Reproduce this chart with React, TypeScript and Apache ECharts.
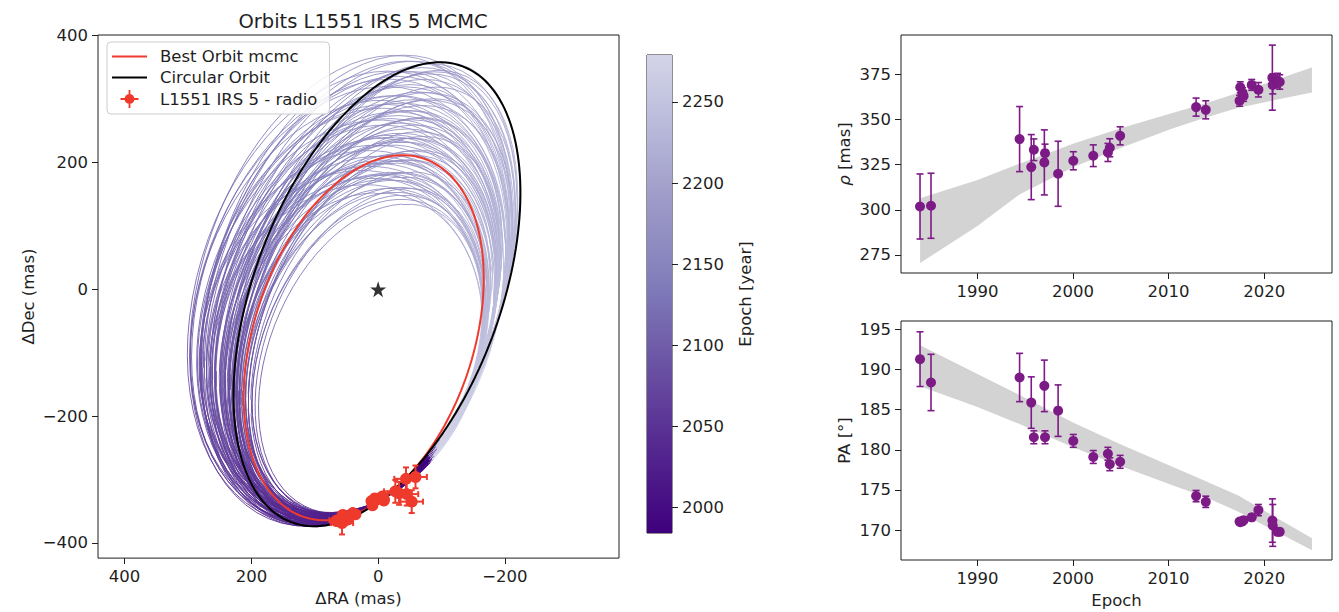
import React, { useEffect, useRef } from "react";
import * as echarts from "echarts";

// ---- Measurements: separation (rho) and position angle (PA) vs epoch ----
const EPOCHS = [1983.99, 1985.14, 1994.41, 1995.63, 1995.9, 1997.0, 1997.07, 1998.44, 2000.03, 2002.12, 2003.65, 2003.85, 2004.93, 2012.88, 2013.89, 2017.43, 2017.5, 2017.74, 2017.85, 2018.7, 2019.4, 2020.86, 2020.9, 2021.4, 2021.63];
const RHO = [301.8, 302.2, 339.1, 323.6, 333.2, 326.2, 331.3, 319.9, 327.1, 329.9, 331.7, 334.3, 340.9, 356.8, 355.3, 360.3, 367.8, 364.5, 363.0, 369.1, 366.4, 373.1, 369.1, 371.5, 370.7];
const RHO_ERR = [18, 18, 18, 18, 6, 18, 5, 18, 5, 6, 5, 5, 5, 5, 5, 3, 3, 3, 3, 3, 4, 18, 5, 4, 4];
const PA = [191.26, 188.36, 188.98, 185.86, 181.55, 187.94, 181.55, 184.86, 181.1, 179.1, 179.5, 178.2, 178.5, 174.24, 173.53, 171.08, 171.0, 171.1, 171.25, 171.6, 172.5, 171.2, 170.6, 169.8, 169.8];
const PA_ERR = [3.4, 3.5, 3.0, 3.2, 0.8, 3.2, 0.8, 3.2, 0.8, 0.8, 0.8, 0.8, 0.8, 0.7, 0.7, 0.3, 0.3, 0.3, 0.3, 0.4, 0.7, 2.7, 2.6, 0.4, 0.4];

// ---- Envelope of the MCMC orbit predictions ----
const BAND_EPOCHS = [1984, 1990, 1994.4, 2000, 2004.9, 2010.4, 2013.9, 2017.3, 2025];
const RHO_BAND_LOW = [270.5, 291.0, 308.5, 323.5, 334.0, 345.0, 351.0, 356.5, 364.9];
const RHO_BAND_HIGH = [306.4, 316.5, 325.5, 336.5, 345.0, 353.5, 359.0, 364.8, 378.7];
const PA_BAND_LOW = [187.9, 185.3, 183.2, 180.3, 178.0, 175.6, 174.1, 172.3, 167.5];
const PA_BAND_HIGH = [193.0, 189.4, 186.8, 183.4, 180.7, 177.9, 176.1, 174.3, 169.0];

// ---- Projected orbits (sky plane): semi-axes in mas, tilt in degrees ----
const STAR = [0, 0];
const ORBIT_ANCHOR = [-5, -332];
const ANCHOR_EPOCH = 2003;
const ANCHOR_PHASE = Math.PI + 0.67;
const EPOCH_MIN = 1984;
const EPOCH_MAX = 2279;
const BEST_ORBIT = { a: 298, b: 173, tilt: 18.5 };
const CIRCULAR_ORBIT = { a: 384, b: 194, tilt: 20.6 };
const SAMPLE_A = [
  262, 372, 307, 346, 281, 333, 300, 385, 275, 359, 313, 326, 255, 379, 294, 340, 288, 366, 320, 268,
  353, 304, 336, 382, 278, 349, 310, 265, 330, 291, 369, 317, 271, 356, 298, 376, 284, 323, 343, 259,
  315, 362, 276, 333, 302, 380, 289, 346, 263, 325, 367, 307, 273, 354, 294, 338, 320, 375, 281, 312,
  329, 272, 364, 295, 381, 258, 341, 308, 351, 285, 371, 319, 269, 337, 303, 360, 280, 324, 377, 293,
  347, 264, 332, 312, 384, 277, 355, 299, 334, 290,
];
const SAMPLE_B = [
  167, 198, 199, 225, 183, 183, 220, 190, 198, 211, 185, 215, 160, 222, 175, 235, 192, 202, 194, 174,
  235, 174, 201, 236, 174, 190, 208, 184, 208, 210, 225, 174, 208, 216, 186, 207, 169, 225, 194, 194,
  199, 187, 220, 211, 179, 216, 201, 206, 176, 187, 238, 216, 183, 202, 197, 223, 181, 193, 213, 190,
  192, 192, 226, 220, 200, 167, 214, 193, 187, 205, 212, 220, 164, 195, 203, 234, 181, 202, 190, 179,
  220, 210, 184, 207, 225, 195, 195, 172, 226, 191,
];
const SAMPLE_TILT = [
  21.5, 20.3, 19.9, 18.8, 20.3, 20.3, 18.9, 20.5, 19.6, 19.3, 20.6, 18.7, 22, 18.4, 20.5, 18.4, 19.7, 20.2, 19.95, 21,
  18.15, 21.3, 19.3, 17.5, 20.8, 21.2, 19.4, 20.5, 19, 18.6, 18.4, 21.1, 19.1, 19.1, 19.8, 19.7, 21, 18.2, 21, 20.1,
  19.8, 21.1, 18.4, 18.8, 21.1, 18.7, 19.2, 20.35, 21, 20.2, 17.7, 19, 20.4, 20.4, 19.3, 18, 20.7, 20.5, 18.65, 20.3,
  19.9, 20, 18.4, 18, 20, 21.6, 19.5, 20.2, 21.3, 19, 19.1, 18.6, 21.5, 19.6, 19.8, 18.1, 20.4, 19.4, 20.6, 20.3,
  19.1, 19.1, 20.3, 19.4, 18.1, 19.7, 20.8, 20.6, 17.9, 19.7,
];

// ---- Axis ticks ----
const RA_TICKS = [400, 200, 0, -200];
const DEC_TICKS = [-400, -200, 0, 200, 400];
const CBAR_TICKS = [2000, 2050, 2100, 2150, 2200, 2250];
const YEAR_TICKS = [1990, 2000, 2010, 2020];
const RHO_TICKS = [275, 300, 325, 350, 375];
const PA_TICKS = [170, 175, 180, 185, 190, 195];

// Colour map (truncated "Purples", dark = early epochs)
const CMAP_STOPS: [number, string][] = [
  [0, "#3f007d"], [0.174, "#54278f"], [0.347, "#6a51a3"], [0.521, "#807dba"],
  [0.694, "#9e9ac8"], [0.868, "#bcbddc"], [1, "#d4d4e8"],
];

const FONT = "'DejaVu Sans', sans-serif";
const FS = 16.5;
const INK = "#1f1f1f";
const RED = "#ee3a2c";
const PURPLE = "#7c1a86";
const BAND_GREY = "#d3d3d3";
const SEGMENTS = 72;

function hexRgb(h: string) {
  return [parseInt(h.slice(1, 3), 16), parseInt(h.slice(3, 5), 16), parseInt(h.slice(5, 7), 16)];
}
function cmap(f: number) {
  const x = Math.max(0, Math.min(1, f));
  for (let i = 1; i < CMAP_STOPS.length; i++) {
    const [o1, c1] = CMAP_STOPS[i];
    const [o0, c0] = CMAP_STOPS[i - 1];
    if (x <= o1) {
      const t = (x - o0) / (o1 - o0);
      const a = hexRgb(c0), b = hexRgb(c1);
      return `rgb(${Math.round(a[0] + (b[0] - a[0]) * t)},${Math.round(a[1] + (b[1] - a[1]) * t)},${Math.round(a[2] + (b[2] - a[2]) * t)})`;
    }
  }
  return CMAP_STOPS[CMAP_STOPS.length - 1][1];
}

type Orbit = { a: number; b: number; tilt: number };
function orbitPoint(o: Orbit, t: number): [number, number] {
  const phi = (o.tilt * Math.PI) / 180;
  const mx = -Math.sin(phi), my = Math.cos(phi);
  const nx = Math.cos(phi), ny = Math.sin(phi);
  const ca = Math.cos(ANCHOR_PHASE), sa = Math.sin(ANCHOR_PHASE);
  const cx = ORBIT_ANCHOR[0] - (o.a * ca * mx + o.b * sa * nx);
  const cy = ORBIT_ANCHOR[1] - (o.a * ca * my + o.b * sa * ny);
  return [cx + o.a * Math.cos(t) * mx + o.b * Math.sin(t) * nx, cy + o.a * Math.cos(t) * my + o.b * Math.sin(t) * ny];
}
function phaseAt(epoch: number) {
  return ANCHOR_PHASE - (2 * Math.PI * (epoch - ANCHOR_EPOCH)) / (EPOCH_MAX - EPOCH_MIN);
}
function closedOrbit(o: Orbit) {
  const pts: [number, number][] = [];
  for (let i = 0; i <= 180; i++) pts.push(orbitPoint(o, (i / 180) * 2 * Math.PI));
  return pts;
}
function sampleSegments() {
  const segs: any[] = [];
  const span = EPOCH_MAX - EPOCH_MIN;
  SAMPLE_A.forEach((a, k) => {
    const o = { a, b: SAMPLE_B[k], tilt: SAMPLE_TILT[k] };
    for (let i = 0; i < SEGMENTS; i++) {
      const e0 = EPOCH_MIN + (i / SEGMENTS) * span;
      const e1 = EPOCH_MIN + ((i + 1) / SEGMENTS) * span;
      segs.push({
        coords: [orbitPoint(o, phaseAt(e0)), orbitPoint(o, phaseAt(e1))],
        lineStyle: { color: cmap(((e0 + e1) / 2 - EPOCH_MIN) / span) },
      });
    }
  });
  return segs;
}

const fmt = (v: number) => (v < 0 ? "\u2212" + Math.abs(v) : String(v));

function valueAxis(extra: any, ticks: number[]) {
  return {
    type: "value",
    splitLine: { show: false },
    axisLine: { show: false, onZero: false },
    axisTick: { show: true, inside: false, length: 6, lineStyle: { color: INK, width: 1 }, customValues: ticks },
    axisLabel: { fontSize: FS, color: INK, fontFamily: FONT, margin: 10, formatter: fmt, customValues: ticks },
    nameTextStyle: { fontSize: FS, color: INK, fontFamily: FONT },
    nameLocation: "middle",
    ...extra,
  };
}

function vErrorItem(params: any, api: any) {
  const x = api.value(0), y = api.value(1), e = api.value(2);
  const top = api.coord([x, y + e]);
  const bot = api.coord([x, y - e]);
  const cap = 3.5;
  const st = { stroke: PURPLE, lineWidth: 1.6 };
  return {
    type: "group",
    children: [
      { type: "line", shape: { x1: top[0], y1: top[1], x2: bot[0], y2: bot[1] }, style: st },
      { type: "line", shape: { x1: top[0] - cap, y1: top[1], x2: top[0] + cap, y2: top[1] }, style: st },
      { type: "line", shape: { x1: bot[0] - cap, y1: bot[1], x2: bot[0] + cap, y2: bot[1] }, style: st },
    ],
  };
}

function bandItem(lo: number[], hi: number[]) {
  return (params: any, api: any) => {
    const pts: number[][] = [];
    BAND_EPOCHS.forEach((e, i) => pts.push(api.coord([e, hi[i]])));
    for (let i = BAND_EPOCHS.length - 1; i >= 0; i--) pts.push(api.coord([BAND_EPOCHS[i], lo[i]]));
    return { type: "polygon", shape: { points: pts }, style: { fill: BAND_GREY } };
  };
}

export default function App() {
  const ref = useRef<HTMLDivElement>(null);

  useEffect(() => {
    if (!ref.current) return;
    const chart = echarts.init(ref.current, undefined, { renderer: "svg" });

    // Sky-plane positions derived from (rho, PA)
    const d2r = Math.PI / 180;
    const skyPoints = EPOCHS.map((_, i) => {
      const p = PA[i] * d2r;
      return [RHO[i] * Math.sin(p), RHO[i] * Math.cos(p)];
    });
    const skyErrors = EPOCHS.map((_, i) => {
      const p = PA[i] * d2r;
      const sp = RHO[i] * PA_ERR[i] * d2r;
      const ex = Math.sqrt((Math.sin(p) * RHO_ERR[i]) ** 2 + (Math.cos(p) * sp) ** 2);
      const ey = Math.sqrt((Math.cos(p) * RHO_ERR[i]) ** 2 + (Math.sin(p) * sp) ** 2);
      return [skyPoints[i][0], skyPoints[i][1], ex, ey];
    });

    const gradient = new echarts.graphic.LinearGradient(
      0, 1, 0, 0,
      CMAP_STOPS.map(([offset, color]) => ({ offset, color }))
    );

    const option: any = {
      animation: false,
      backgroundColor: "#ffffff",
      textStyle: { fontFamily: FONT },
      title: {
        text: "Orbits L1551 IRS 5 MCMC",
        left: 358,
        top: 6,
        textAlign: "center",
        textStyle: { fontSize: 19.5, fontWeight: "normal", color: INK, fontFamily: FONT },
      },
      legend: {
        orient: "vertical",
        left: 107,
        top: 42,
        padding: [6, 12, 6, 5],
        itemGap: 4,
        itemWidth: 35,
        itemHeight: 18,
        backgroundColor: "rgba(255,255,255,0.85)",
        borderColor: "#cccccc",
        borderWidth: 1,
        borderRadius: 4,
        selectedMode: false,
        textStyle: { fontSize: FS, color: INK, fontFamily: FONT, padding: [0, 0, 0, 8] },
        data: [
          { name: "Best Orbit mcmc", icon: "path://M0,0h35v2h-35z" },
          { name: "Circular Orbit", icon: "path://M0,0h35v2h-35z" },
          {
            name: "L1551 IRS 5 - radio",
            icon: "path://M9,0h2v20h-2z M0,9h20v2h-20z M10,4.5a5.5,5.5 0 1 1 0,11a5.5,5.5 0 1 1 0,-11z",
          },
        ],
      },
      grid: [
        { left: 98, top: 35, width: 521, height: 524, show: true, borderColor: INK, borderWidth: 1, backgroundColor: "transparent" },
        { left: 647, top: 55, width: 25, height: 478, show: true, borderColor: INK, borderWidth: 1, backgroundColor: "transparent" },
        { left: 901, top: 35, width: 431, height: 238, show: true, borderColor: INK, borderWidth: 1, backgroundColor: "transparent" },
        { left: 901, top: 321, width: 431, height: 239, show: true, borderColor: INK, borderWidth: 1, backgroundColor: "transparent" },
      ],
      xAxis: [
        valueAxis({ gridIndex: 0, inverse: true, min: -380, max: 442, name: "\u0394RA (mas)", nameGap: 31 }, RA_TICKS),
        { gridIndex: 1, type: "value", min: 0, max: 1, show: false },
        valueAxis({ gridIndex: 2, min: 1982, max: 2027.1 }, YEAR_TICKS),
        valueAxis({ gridIndex: 3, min: 1982, max: 2027.1, name: "Epoch", nameGap: 32 }, YEAR_TICKS),
      ],
      yAxis: [
        valueAxis({ gridIndex: 0, min: -424, max: 401, name: "\u0394Dec (mas)", nameGap: 61 }, DEC_TICKS),
        valueAxis({ gridIndex: 1, position: "right", min: EPOCH_MIN, max: EPOCH_MAX, name: "Epoch [year]", nameGap: 65, nameRotate: 90 }, CBAR_TICKS),
        valueAxis({
          gridIndex: 2, min: 265, max: 396.7, name: "{i|\u03c1} [mas]", nameGap: 48,
          nameTextStyle: { fontSize: FS, color: INK, fontFamily: FONT, rich: { i: { fontStyle: "italic", fontSize: FS, fontFamily: FONT, color: INK } } },
        }, RHO_TICKS),
        valueAxis({ gridIndex: 3, min: 166.3, max: 196, name: "PA [\u00b0]", nameGap: 48 }, PA_TICKS),
      ],
      series: [
        {
          type: "lines",
          coordinateSystem: "cartesian2d",
          xAxisIndex: 0,
          yAxisIndex: 0,
          polyline: false,
          large: false,
          progressive: 0,
          silent: true,
          z: 1,
          lineStyle: { width: 0.9, opacity: 0.95 },
          data: sampleSegments(),
        },
        {
          name: "Best Orbit mcmc",
          type: "line",
          xAxisIndex: 0,
          yAxisIndex: 0,
          symbol: "none",
          silent: true,
          z: 3,
          color: RED,
          lineStyle: { color: RED, width: 2 },
          data: closedOrbit(BEST_ORBIT),
        },
        {
          name: "Circular Orbit",
          type: "line",
          xAxisIndex: 0,
          yAxisIndex: 0,
          symbol: "none",
          silent: true,
          z: 3,
          color: "#000000",
          lineStyle: { color: "#000000", width: 2 },
          data: closedOrbit(CIRCULAR_ORBIT),
        },
        {
          type: "custom",
          xAxisIndex: 0,
          yAxisIndex: 0,
          silent: true,
          z: 4,
          data: skyErrors,
          renderItem: (params: any, api: any) => {
            const x = api.value(0), y = api.value(1), ex = api.value(2), ey = api.value(3);
            const l = api.coord([x + ex, y]), r = api.coord([x - ex, y]);
            const t = api.coord([x, y + ey]), b = api.coord([x, y - ey]);
            const st = { stroke: RED, lineWidth: 2 };
            const cap = 3;
            return {
              type: "group",
              children: [
                { type: "line", shape: { x1: l[0], y1: l[1], x2: r[0], y2: r[1] }, style: st },
                { type: "line", shape: { x1: t[0], y1: t[1], x2: b[0], y2: b[1] }, style: st },
                { type: "line", shape: { x1: l[0], y1: l[1] - cap, x2: l[0], y2: l[1] + cap }, style: st },
                { type: "line", shape: { x1: r[0], y1: r[1] - cap, x2: r[0], y2: r[1] + cap }, style: st },
                { type: "line", shape: { x1: t[0] - cap, y1: t[1], x2: t[0] + cap, y2: t[1] }, style: st },
                { type: "line", shape: { x1: b[0] - cap, y1: b[1], x2: b[0] + cap, y2: b[1] }, style: st },
              ],
            };
          },
        },
        {
          name: "L1551 IRS 5 - radio",
          type: "scatter",
          xAxisIndex: 0,
          yAxisIndex: 0,
          symbolSize: 12,
          silent: true,
          z: 5,
          itemStyle: { color: RED, opacity: 1 },
          data: skyPoints,
        },
        {
          type: "scatter",
          xAxisIndex: 0,
          yAxisIndex: 0,
          symbol: "path://M50,0 L61.8,35.1 L98.1,35.1 L68.8,56.7 L79.4,91.0 L50,70 L20.6,91.0 L31.2,56.7 L1.9,35.1 L38.2,35.1 Z",
          symbolSize: 16,
          silent: true,
          z: 5,
          itemStyle: { color: "#000000" },
          data: [STAR],
        },
        {
          type: "custom",
          xAxisIndex: 1,
          yAxisIndex: 1,
          silent: true,
          data: [[0]],
          renderItem: (params: any, api: any) => {
            const p0 = api.coord([0, EPOCH_MAX]);
            const p1 = api.coord([1, EPOCH_MIN]);
            return {
              type: "rect",
              shape: { x: p0[0], y: p0[1], width: p1[0] - p0[0], height: p1[1] - p0[1] },
              style: { fill: gradient },
            };
          },
        },
        {
          type: "custom", xAxisIndex: 2, yAxisIndex: 2, silent: true, z: 1, data: [[0]],
          renderItem: bandItem(RHO_BAND_LOW, RHO_BAND_HIGH),
        },
        {
          type: "custom", xAxisIndex: 2, yAxisIndex: 2, silent: true, z: 2,
          data: EPOCHS.map((e, i) => [e, RHO[i], RHO_ERR[i]]),
          renderItem: vErrorItem,
        },
        {
          type: "scatter", xAxisIndex: 2, yAxisIndex: 2, silent: true, z: 3, symbolSize: 10,
          itemStyle: { color: PURPLE, opacity: 1 },
          data: EPOCHS.map((e, i) => [e, RHO[i]]),
        },
        {
          type: "custom", xAxisIndex: 3, yAxisIndex: 3, silent: true, z: 1, data: [[0]],
          renderItem: bandItem(PA_BAND_LOW, PA_BAND_HIGH),
        },
        {
          type: "custom", xAxisIndex: 3, yAxisIndex: 3, silent: true, z: 2,
          data: EPOCHS.map((e, i) => [e, PA[i], PA_ERR[i]]),
          renderItem: vErrorItem,
        },
        {
          type: "scatter", xAxisIndex: 3, yAxisIndex: 3, silent: true, z: 3, symbolSize: 10,
          itemStyle: { color: PURPLE, opacity: 1 },
          data: EPOCHS.map((e, i) => [e, PA[i]]),
        },
      ],
    };

    chart.setOption(option);
    return () => chart.dispose();
  }, []);

  return (
    <div
      ref={ref}
      style={{ position: "fixed", left: 0, top: 0, width: 1339, height: 612, background: "#ffffff" }}
    />
  );
}
